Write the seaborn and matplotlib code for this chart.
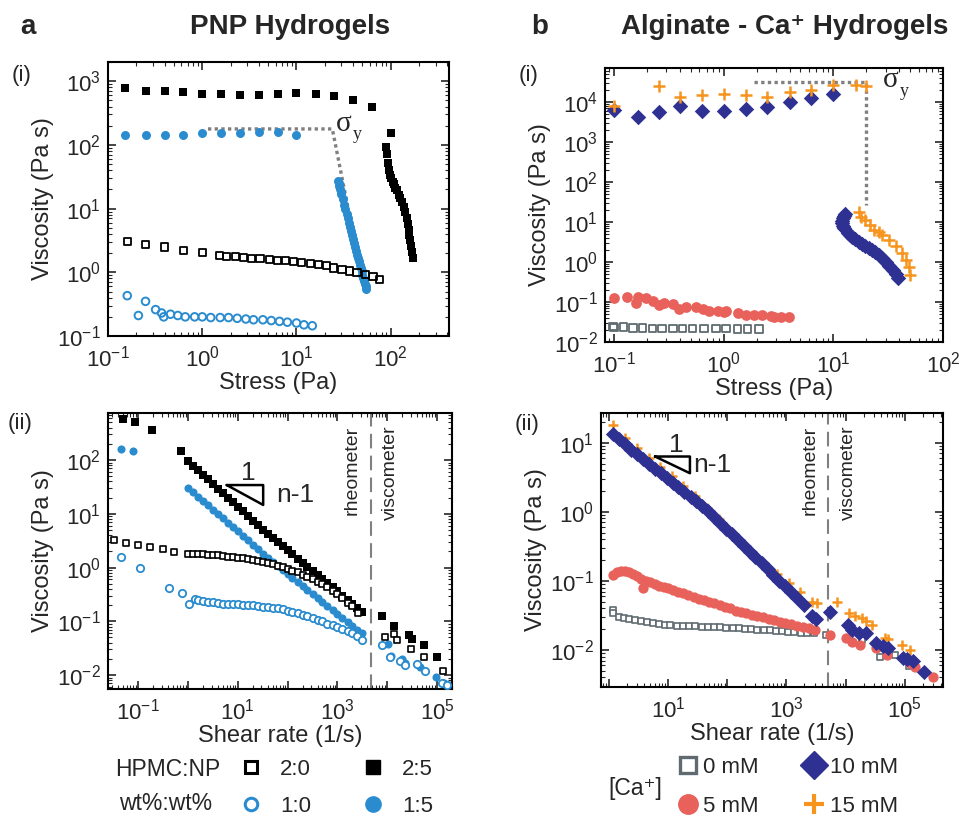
import matplotlib
matplotlib.use("Agg")
import matplotlib.pyplot as plt
import matplotlib.ticker as mticker
from matplotlib.lines import Line2D
import seaborn as sns
import numpy as np

# ---------------- (a-i) PNP hydrogels : viscosity vs stress ----------------
a1_stress_25 = [0.15, 0.25, 0.4, 0.63, 1.0, 1.6, 2.5, 4.0, 6.3, 10, 16, 25, 40, 63, 100,
                89, 91, 93, 95, 98, 100, 105, 107, 112, 117, 123, 126, 132, 138, 141, 148,
                151, 155, 158, 162, 166, 170, 174]
a1_visc_25 = [780, 710, 710, 670, 630, 630, 610, 610, 630, 650, 630, 580, 510, 390, 155,
              93, 71, 52, 40, 34, 30, 26, 24, 21, 19.5, 16.6, 14.5, 12.6, 10.7, 8.9, 7.1,
              5.8, 4.6, 3.8, 3.2, 2.6, 2.1, 1.7]
a1_stress_15 = [0.15, 0.25, 0.4, 0.63, 1.0, 1.6, 2.5, 4.0, 6.3, 10,
                27.5, 28, 28.5, 29, 29.5, 30, 31, 32, 33, 34, 35, 36, 37, 38, 39, 40, 41,
                42, 43, 44, 45, 46, 47, 48, 49, 50, 51, 52, 53, 54, 55]
a1_visc_15 = [145, 145, 141, 145, 151, 151, 155, 158, 158, 145,
              27.5, 24.8, 22.5, 20.4, 18.5, 16.8, 13.9, 11.6, 9.8, 8.2, 7.0, 5.96, 5.1,
              4.4, 3.8, 3.3, 2.85, 2.5, 2.17, 1.9, 1.68, 1.48, 1.31, 1.16, 1.04, 0.92,
              0.82, 0.74, 0.66, 0.60, 0.54]
a1_stress_20 = [0.16, 0.25, 0.4, 0.63, 1.0, 1.54, 1.82, 2.23, 2.73, 3.35, 4.1, 5.16, 6.3,
                7.7, 9.3, 11.4, 14, 17.1, 20.7, 24.8, 30.4, 36.6, 43.9, 53.7, 64.9, 75.7]
a1_visc_20 = [3.0, 2.75, 2.5, 2.2, 2.05, 1.86, 1.79, 1.75, 1.71, 1.67, 1.63, 1.61, 1.55,
              1.51, 1.48, 1.44, 1.37, 1.33, 1.26, 1.17, 1.12, 1.05, 0.99, 0.92, 0.85, 0.77]
a1_stress_10 = [0.16, 0.21, 0.25, 0.32, 0.37, 0.39, 0.46, 0.55, 0.66, 0.83, 1.0, 1.23,
                1.55, 1.9, 2.35, 2.9, 3.5, 4.4, 5.4, 6.6, 8.0, 10, 12, 14.7]
a1_visc_10 = [0.43, 0.21, 0.35, 0.26, 0.23, 0.20, 0.22, 0.21, 0.20, 0.20, 0.20, 0.195,
              0.195, 0.195, 0.19, 0.185, 0.18, 0.18, 0.175, 0.17, 0.165, 0.16, 0.15, 0.145]

# ---------------- (b-i) Alginate - Ca+ : viscosity vs stress ----------------
b1_stress_0 = [0.098, 0.1, 0.122, 0.149, 0.181, 0.226, 0.275, 0.345, 0.42, 0.52, 0.66,
               0.85, 1.05, 1.34, 1.65, 2.1]
b1_visc_0 = [0.0245, 0.023, 0.0235, 0.0225, 0.0225, 0.022, 0.022, 0.022, 0.022, 0.022,
             0.022, 0.022, 0.022, 0.021, 0.021, 0.021]
b1_stress_5 = [0.101, 0.132, 0.16, 0.165, 0.197, 0.226, 0.26, 0.289, 0.344, 0.395, 0.455,
               0.56, 0.644, 0.741, 0.88, 1.01, 1.05, 1.34, 1.6, 1.9, 2.26, 2.69, 2.89,
               3.32, 3.95]
b1_visc_5 = [0.125, 0.137, 0.094, 0.132, 0.125, 0.103, 0.085, 0.094, 0.088, 0.066, 0.077,
             0.073, 0.066, 0.061, 0.058, 0.055, 0.061, 0.053, 0.048, 0.048, 0.046, 0.045,
             0.043, 0.042, 0.042]
b1_stress_10 = [0.1, 0.165, 0.26, 0.40, 0.64, 1.0, 1.6, 2.5, 4.0, 6.3, 10,
                12.9, 12.6, 12.3, 12.1, 12.0, 12.2, 12.6, 13.5, 14.2, 14.9, 15.9, 17, 18.2,
                19.6, 21, 22.5, 24.2, 26, 28, 30, 32.5, 35, 37, 38.5]
b1_visc_10 = [6200, 4200, 5600, 7800, 6000, 6000, 6800, 7500, 10000, 12600, 15500,
              15.8, 14, 12.3, 10.8, 9.4, 8.0, 6.9, 5.4, 4.8, 4.3, 3.7, 3.2, 2.8, 2.5, 2.2,
              2.0, 1.75, 1.5, 1.22, 1.0, 0.8, 0.63, 0.5, 0.39]
b1_stress_15 = [0.1, 0.26, 0.40, 0.63, 1.0, 1.6, 2.5, 4.0, 6.3, 10, 16, 20,
                17, 18, 19.5, 21.5, 23.5, 26, 28, 32, 37, 42, 46, 49, 49.5]
b1_visc_15 = [8000, 24500, 13000, 14700, 16000, 14700, 13000, 17800, 19500, 26000, 27000,
              25000, 18, 13.5, 11, 8.5, 6.3, 5.5, 4.7, 3.5, 2.5, 1.7, 1.1, 0.76, 0.47]

# ---------------- (a-ii) PNP hydrogels : viscosity vs shear rate ----------------
a2_rate_25 = [0.049, 0.087, 0.19, 0.72, 1.0, 1.25, 1.6, 2.0, 2.5, 3.2, 4.0, 5.0, 6.3, 8.0,
              10, 12.5, 16, 20, 25, 32, 40, 50, 63, 80, 100, 125, 160, 200, 250, 320, 400,
              500, 630, 800, 1000, 1250, 1600, 2000, 2500, 3100,
              7800, 14000, 27000, 31000, 54000, 102000]
a2_visc_25 = [575, 515, 370, 150, 95, 79, 64, 53, 44, 35.6, 29.4, 24.3, 20, 16.3, 13.5,
              11.1, 9.0, 7.5, 6.2, 5.0, 4.2, 3.54, 2.97, 2.47, 2.08, 1.76, 1.46, 1.23, 1.03,
              0.86, 0.72, 0.61, 0.51, 0.43, 0.36, 0.30, 0.25, 0.21, 0.178, 0.151,
              0.126, 0.083, 0.055, 0.046, 0.036, 0.022]
a2_rate_15 = [0.045, 0.078, 1.0, 1.25, 1.6, 2.0, 2.5, 3.2, 4.0, 5.0, 6.3, 8.0, 10, 12.5,
              16, 20, 25, 32, 40, 50, 63, 80, 100, 125, 160, 200, 250, 320, 400, 500, 630,
              800, 1000, 1250, 1600, 2000, 2500, 3100,
              7800, 10500, 12000, 20000, 23000, 40000, 45000, 95000, 140000, 170000]
a2_visc_15 = [158, 145, 30, 25.2, 20.6, 17.2, 14.4, 11.8, 9.8, 8.2, 6.8, 5.6, 4.7, 3.9,
              3.2, 2.67, 2.23, 1.82, 1.52, 1.27, 1.07, 0.90, 0.76, 0.65, 0.54, 0.46, 0.39,
              0.32, 0.27, 0.23, 0.195, 0.163, 0.138, 0.117, 0.098, 0.083, 0.070, 0.060,
              0.036, 0.038, 0.023, 0.020, 0.017, 0.016, 0.014, 0.0093, 0.0071, 0.0066]
a2_rate_20 = [0.033, 0.057, 0.1, 0.17, 0.32, 0.53, 1.0, 1.25, 1.6, 2.0, 2.5, 3.2, 4.0, 5.0,
              6.3, 8.0, 10, 12.5, 16, 20, 25, 32, 40, 50, 63, 80, 100, 125, 160, 200, 250,
              320, 400, 500, 630, 800, 1000, 1250, 1600, 2000, 2600,
              9000, 14000, 16000, 30000, 55000, 130000]
a2_visc_20 = [3.2, 2.9, 2.6, 2.45, 2.2, 1.96, 1.82, 1.80, 1.78, 1.76, 1.74, 1.70, 1.68,
              1.64, 1.60, 1.57, 1.51, 1.48, 1.43, 1.38, 1.33, 1.27, 1.22, 1.16, 1.08, 1.02,
              0.95, 0.88, 0.81, 0.74, 0.68, 0.62, 0.55, 0.49, 0.43, 0.37, 0.32, 0.27, 0.22,
              0.19, 0.14, 0.05, 0.059, 0.045, 0.031, 0.022, 0.012]
a2_rate_10 = [0.046, 0.11, 0.41, 0.76, 1.07, 1.38, 1.6, 2.0, 2.5, 3.2, 4.0, 5.0, 6.3, 8.0,
              10, 12.5, 16, 20, 25, 32, 40, 50, 63, 80, 100, 125, 160, 200, 250, 320, 400,
              500, 630, 800, 1000, 1250, 1600, 2000, 2500, 3100,
              8000, 11500, 18000, 23000, 40000, 57000, 125000, 160000]
a2_visc_10 = [1.6, 0.97, 0.42, 0.34, 0.21, 0.26, 0.25, 0.24, 0.23, 0.224, 0.219, 0.214,
              0.211, 0.209, 0.207, 0.204, 0.202, 0.20, 0.195, 0.188, 0.184, 0.18, 0.174,
              0.166, 0.158, 0.151, 0.141, 0.132, 0.123, 0.115, 0.107, 0.10, 0.091, 0.085,
              0.079, 0.072, 0.066, 0.060, 0.054, 0.045,
              0.037, 0.022, 0.018, 0.0155, 0.016, 0.012, 0.007, 0.0065]

# ---------------- (b-ii) Alginate - Ca+ : viscosity vs shear rate ----------------
b2_rate_10 = [1.2, 1.5, 1.9, 2.4, 3.0, 3.8, 4.8, 6.0, 7.6, 9.5, 12, 15, 19, 24, 30, 38, 48,
              60, 76, 95, 120, 150, 190, 240, 300, 380, 480, 600, 760, 950, 1200, 1500,
              2000, 2700, 3200, 5400, 11000, 13000, 17000, 22000, 33000, 43000, 52000,
              93000, 110000, 138000, 214000]
b2_visc_10 = [13.5, 11.5, 9.6, 7.9, 6.8, 5.8, 4.9, 4.2, 3.6, 3.1, 2.6, 2.3, 1.95, 1.66,
              1.45, 1.23, 1.01, 0.84, 0.69, 0.57, 0.47, 0.39, 0.32, 0.26, 0.22, 0.18, 0.148,
              0.123, 0.10, 0.083, 0.068, 0.057, 0.045, 0.031, 0.028, 0.035, 0.023, 0.0195,
              0.0178, 0.0174, 0.0126, 0.0112, 0.0105, 0.0076, 0.0074, 0.0068, 0.0047]
b2_rate_15 = [1.2, 1.9, 3.0, 4.7, 7.4, 11.5, 18, 29, 46, 72, 112, 178, 282, 437, 692, 1100,
              1700, 2700, 3300, 7100, 11500, 14500, 18600, 22400, 27500, 45700, 52500,
              89000, 120000]
b2_visc_15 = [18, 11.7, 8.4, 6.0, 4.5, 3.3, 2.4, 1.67, 1.13, 0.79, 0.5, 0.34, 0.24, 0.17,
              0.126, 0.093, 0.068, 0.050, 0.048, 0.049, 0.034, 0.031, 0.029, 0.026, 0.023,
              0.015, 0.0145, 0.0117, 0.010]
b2_rate_5 = [1.2, 1.4, 1.6, 1.9, 2.2, 2.6, 3.0, 3.5, 3.8, 4.2, 5.0, 6.0, 7.0, 8.5, 10, 12,
             15, 18, 22, 27, 33, 40, 50, 60, 75, 90, 110, 140, 170, 210, 260, 320, 400, 500,
             620, 780, 950, 1200, 1500, 1900, 2400, 3000, 5400,
             10200, 13000, 17400, 33000, 49000, 120000, 148000, 300000]
b2_visc_5 = [0.123, 0.135, 0.138, 0.138, 0.132, 0.126, 0.117, 0.107, 0.079, 0.10, 0.095,
             0.089, 0.085, 0.081, 0.078, 0.074, 0.069, 0.066, 0.062, 0.059, 0.055, 0.052,
             0.049, 0.047, 0.044, 0.042, 0.040, 0.037, 0.035, 0.034, 0.032, 0.031, 0.0295,
             0.028, 0.027, 0.0257, 0.0245, 0.0234, 0.0224, 0.0214, 0.0204, 0.0195, 0.0166,
             0.0148, 0.013, 0.0117, 0.0105, 0.0085, 0.0065, 0.0056, 0.0041]
b2_rate_0 = [1.2, 1.2, 1.5, 1.8, 2.2, 2.8, 3.5, 4.4, 5.5, 7, 9, 11, 14, 18, 23, 29, 37, 47,
             60, 76, 97, 123, 157, 200, 250, 320, 410, 520, 660, 840, 1070, 1360, 1730,
             2200, 2900, 4600, 18600, 38000, 69000, 115000]
b2_visc_0 = [0.038, 0.034, 0.030, 0.029, 0.0279, 0.027, 0.026, 0.025, 0.0243, 0.0234,
             0.0229, 0.0226, 0.0224, 0.0221, 0.0219, 0.0219, 0.0216, 0.0214, 0.0214, 0.0211,
             0.0209, 0.0207, 0.0204, 0.0202, 0.020, 0.0197, 0.0195, 0.0193, 0.019, 0.0186,
             0.0184, 0.0182, 0.0178, 0.0176, 0.0174, 0.0166, 0.0138, 0.0079, 0.0085, 0.0058]

pnp_labels = ['2:0', '1:0', '2:5', '1:5']
ca_labels = ['0 mM', '5 mM', '10 mM', '15 mM']

BLUE = '#2a8ccf'
GREY = '#5f6b71'
RED = '#e8615b'
NAVY = '#2e3192'
ORANGE = '#f7941d'
DOT = '#808080'

sns.set_style('ticks')
plt.rcParams['font.family'] = ['Liberation Sans', 'DejaVu Sans']
plt.rcParams['axes.linewidth'] = 1.5
plt.rcParams['axes.edgecolor'] = 'black'

fig = plt.figure(figsize=(9.61, 8.19), dpi=100)
ax_a1 = fig.add_axes([0.1124, 0.5897, 0.3548, 0.3346])
ax_b1 = fig.add_axes([0.6296, 0.5824, 0.3517, 0.3346])
ax_a2 = fig.add_axes([0.1124, 0.1587, 0.3580, 0.3370])
ax_b2 = fig.add_axes([0.6254, 0.1612, 0.3559, 0.3346])


def pts(ax, x, y, marker, s, face, edge, lw=0.0, z=2):
    sns.scatterplot(x=x, y=y, ax=ax, marker=marker, s=s, facecolor=face,
                    edgecolor=edge, linewidth=lw, legend=False, zorder=z)


def plus(ax, x, y, s, z=3):
    sns.scatterplot(x=x, y=y, ax=ax, marker='+', s=s, color=ORANGE,
                    edgecolor=ORANGE, linewidth=1.8, legend=False, zorder=z)


def decade_labels(skip_even=False):
    def f(v, pos):
        e = int(round(np.log10(v)))
        if skip_even and e % 2 == 0:
            return ''
        return r'$\mathdefault{10^{%d}}$' % e
    return mticker.FuncFormatter(f)


def style_axes(ax, xlim, ylim, xlabel, skip_even=False):
    ax.set_xscale('log')
    ax.set_yscale('log')
    ax.set_xlim(*xlim)
    ax.set_ylim(*ylim)
    for axis, lab in ((ax.xaxis, decade_labels(skip_even)), (ax.yaxis, decade_labels())):
        axis.set_major_locator(mticker.LogLocator(base=10, numticks=20))
        axis.set_minor_locator(mticker.LogLocator(base=10, subs=np.arange(2, 10), numticks=20))
        axis.set_major_formatter(lab)
        axis.set_minor_formatter(mticker.NullFormatter())
    ax.tick_params(which='both', direction='in', top=True, right=True, labelsize=16)
    ax.tick_params(which='major', length=6, width=1.2, pad=5)
    ax.tick_params(axis='x', which='major', pad=7)
    ax.tick_params(which='minor', length=3, width=0.8)
    ax.set_xlabel(xlabel, fontsize=17, labelpad=0)
    ax.set_ylabel('Viscosity (Pa s)', fontsize=17, labelpad=2)
    for sp in ax.spines.values():
        sp.set_visible(True)
        sp.set_linewidth(1.5)


# ---- a(i)
pts(ax_a1, a1_stress_25, a1_visc_25, 's', 36, 'black', 'black')
pts(ax_a1, a1_stress_15, a1_visc_15, 'o', 42, BLUE, BLUE)
pts(ax_a1, a1_stress_20, a1_visc_20, 's', 26, 'none', 'black', 1.3)
pts(ax_a1, a1_stress_10, a1_visc_10, 'o', 30, 'none', BLUE, 1.4)
ax_a1.plot([1.15, 24, 35], [178, 178, 10.7], ls=(0, (1, 1)), color=DOT, lw=2.4, zorder=1)
ax_a1.text(0.668, 0.775, 'σ', transform=ax_a1.transAxes, fontsize=21,
           family='Liberation Serif', va='center', ha='left')
ax_a1.text(0.718, 0.735, 'y', transform=ax_a1.transAxes, fontsize=13,
           family='Liberation Serif', va='center', ha='left')
style_axes(ax_a1, (0.1, 415), (0.1, 2000), 'Stress (Pa)')

# ---- b(i)
pts(ax_b1, b1_stress_0, b1_visc_0, 's', 28, 'none', GREY, 1.3)
pts(ax_b1, b1_stress_5, b1_visc_5, 'o', 60, RED, RED)
pts(ax_b1, b1_stress_10, b1_visc_10, 'D', 62, NAVY, NAVY)
plus(ax_b1, b1_stress_15, b1_visc_15, 70)
ax_b1.plot([1.9, 20, 20], [31600, 31600, 26], ls=(0, (1, 1)), color=DOT, lw=2.4, zorder=1)
ax_b1.text(0.822, 0.955, 'σ', transform=ax_b1.transAxes, fontsize=21,
           family='Liberation Serif', va='center', ha='left')
ax_b1.text(0.872, 0.915, 'y', transform=ax_b1.transAxes, fontsize=13,
           family='Liberation Serif', va='center', ha='left')
style_axes(ax_b1, (0.083, 100), (0.01, 70000), 'Stress (Pa)')

# ---- a(ii)
pts(ax_a2, a2_rate_15, a2_visc_15, 'o', 34, BLUE, BLUE)
pts(ax_a2, a2_rate_25, a2_visc_25, 's', 32, 'black', 'black')
pts(ax_a2, a2_rate_20, a2_visc_20, 's', 24, 'white', 'black', 1.2, z=3)
pts(ax_a2, a2_rate_10, a2_visc_10, 'o', 28, 'white', BLUE, 1.3, z=3)
ax_a2.axvline(4800, color=DOT, ls=(0, (7, 3.5)), lw=1.5, zorder=1)
style_axes(ax_a2, (0.025, 2e5), (0.0055, 750), 'Shear rate (1/s)', skip_even=True)

# ---- b(ii)
pts(ax_b2, b2_rate_0, b2_visc_0, 's', 24, 'white', GREY, 1.2)
pts(ax_b2, b2_rate_5, b2_visc_5, 'o', 55, RED, RED)
plus(ax_b2, b2_rate_15, b2_visc_15, 60)
pts(ax_b2, b2_rate_10, b2_visc_10, 'D', 60, NAVY, NAVY, z=3)
ax_b2.axvline(5100, color=DOT, ls=(0, (7, 3.5)), lw=1.5, zorder=1)
style_axes(ax_b2, (0.74, 4.4e5), (0.0029, 27), 'Shear rate (1/s)', skip_even=True)

# slope triangles and instrument labels
for ax, (x0, x1, y0, y1), p1, pn in (
        (ax_a2, (0.345, 0.451, 0.739, 0.667), (0.408, 0.782), (0.545, 0.703)),
        (ax_b2, (0.158, 0.260, 0.841, 0.780), (0.221, 0.883), (0.324, 0.810))):
    ax.plot([x0, x1, x1, x0], [y0, y0, y1, y0], transform=ax.transAxes,
            color='black', lw=1.8, zorder=4)
    ax.text(*p1, '1', transform=ax.transAxes, fontsize=19, ha='center', va='center')
    ax.text(*pn, 'n-1', transform=ax.transAxes, fontsize=19, ha='center', va='center')

for ax, xr, xv in ((ax_a2, 0.709, 0.82), (ax_b2, 0.611, 0.722)):
    ax.text(xr, 0.955, 'rheometer', transform=ax.transAxes, rotation=90,
            fontsize=14, ha='center', va='top')
    ax.text(xv, 0.955, 'viscometer', transform=ax.transAxes, rotation=90,
            fontsize=14, ha='center', va='top')

# titles and panel tags
fig.text(28 / 961, 1 - 27 / 819, 'a', fontsize=20, fontweight='bold', ha='center', va='center')
fig.text(290 / 961, 1 - 27 / 819, 'PNP Hydrogels', fontsize=20, fontweight='bold',
         ha='center', va='center')
fig.text(540 / 961, 1 - 27 / 819, 'b', fontsize=20, fontweight='bold', ha='center', va='center')
fig.text(785 / 961, 1 - 27 / 819, 'Alginate - Ca⁺ Hydrogels', fontsize=20, fontweight='bold',
         ha='center', va='center')
for x, y, t in ((22, 76, '(i)'), (529, 76, '(i)'), (20, 423, '(ii)'), (527, 424, '(ii)')):
    fig.text(x / 961, 1 - y / 819, t, fontsize=16, ha='center', va='center')

# legends
pnp_handles = [
    Line2D([], [], ls='none', marker='s', ms=9, mfc='white', mec='black', mew=2.2),
    Line2D([], [], ls='none', marker='o', ms=9, mfc='white', mec=BLUE, mew=2.2),
    Line2D([], [], ls='none', marker='s', ms=10, mfc='black', mec='black'),
    Line2D([], [], ls='none', marker='o', ms=11, mfc=BLUE, mec=BLUE),
]
fig.legend(pnp_handles, pnp_labels, loc='upper left', bbox_to_anchor=(0.243, 0.082),
           ncol=2, frameon=False, fontsize=16, handlelength=1.0, handletextpad=0.8,
           columnspacing=2.3, labelspacing=0.74, borderaxespad=0, borderpad=0.3)
fig.text(168 / 961, 1 - 770 / 819, 'HPMC:NP', fontsize=16.5, ha='center', va='center')
fig.text(166 / 961, 1 - 804 / 819, 'wt%:wt%', fontsize=16.5, ha='center', va='center')

ca_handles = [
    Line2D([], [], ls='none', marker='s', ms=11, mfc='white', mec=GREY, mew=2.4),
    Line2D([], [], ls='none', marker='o', ms=14, mfc=RED, mec=RED),
    Line2D([], [], ls='none', marker='D', ms=14, mfc=NAVY, mec=NAVY),
    Line2D([], [], ls='none', marker='+', ms=15, mec=ORANGE, mew=3),
]
fig.legend(ca_handles, ca_labels, loc='upper left', bbox_to_anchor=(0.697, 0.084),
           ncol=2, frameon=False, fontsize=16, handlelength=1.0, handletextpad=0.2,
           columnspacing=2.0, labelspacing=0.8, borderaxespad=0, borderpad=0.3)
fig.text(635 / 961, 1 - 788 / 819, '[Ca⁺]', fontsize=16.5, ha='center', va='center')

fig.savefig('out.png', dpi=100)
